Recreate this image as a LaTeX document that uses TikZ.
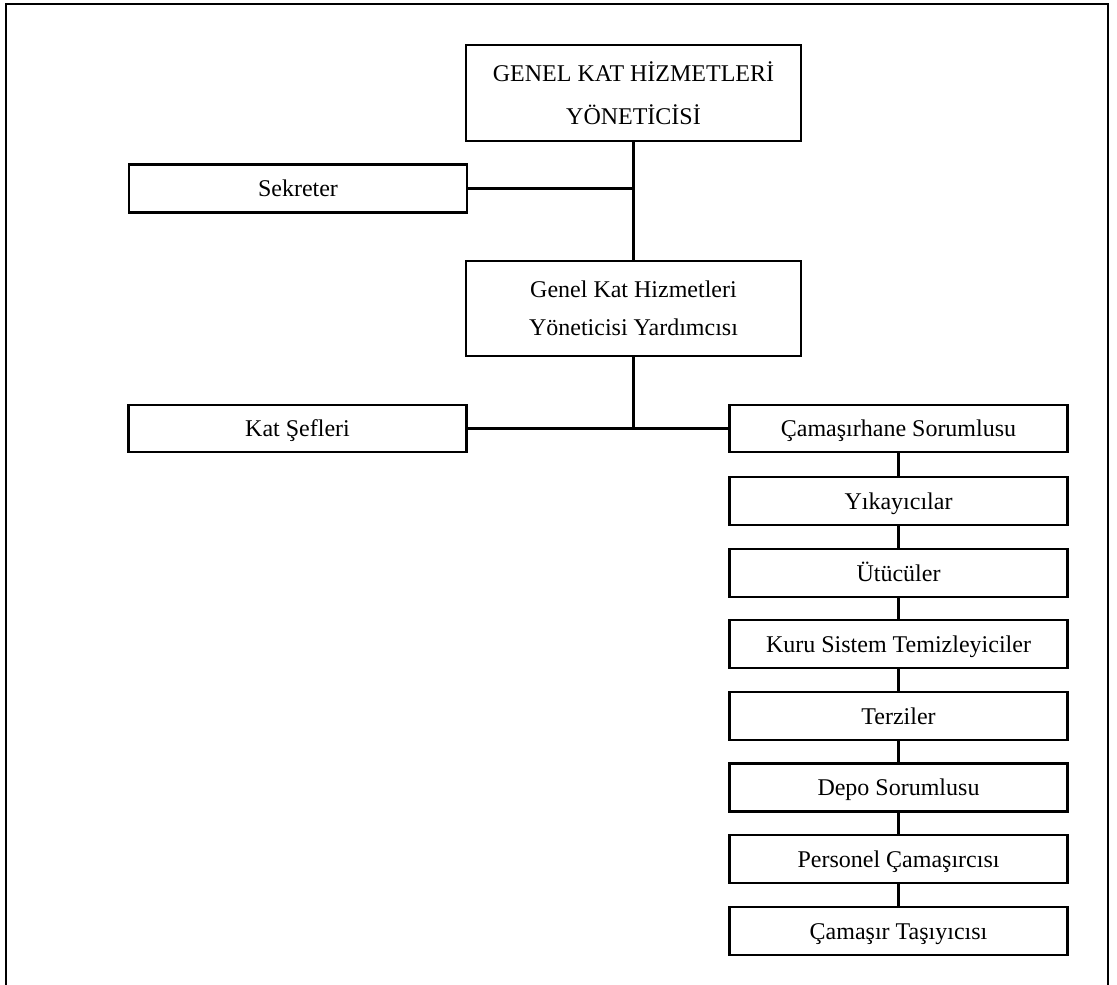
\documentclass[tikz,border=0pt]{standalone}
\usepackage{fontspec}
\setmainfont{Liberation Serif}
\begin{document}
\begin{tikzpicture}[x=1pt,y=-1pt,
  box/.style={draw, line width=2.2pt, minimum width=338pt, minimum height=48pt,
    inner sep=0pt, text height=16pt, text depth=0pt,
    font=\fontsize{24}{29}\selectfont},
  bigbox/.style={draw, line width=2.2pt, minimum width=335pt, inner sep=0pt, align=center},
  link/.style={line width=2.2pt},
  frame/.style={line width=2.6pt}]
\useasboundingbox (0,0) rectangle (1117,985);
\draw[frame] (6,985) -- (6,4) -- (1108,4) -- (1108,985);

\node[bigbox, minimum height=96pt, font=\fontsize{24}{43}\selectfont] (top) at (633.5,93)
  {GENEL KAT HİZMETLERİ\\YÖNETİCİSİ};
\node[box] (sek) at (298,188.5) {Sekreter};
\node[bigbox, minimum height=95pt, font=\fontsize{24}{38}\selectfont] (mid) at (633.5,308.5)
  {Genel Kat Hizmetleri\\Yöneticisi Yardımcısı};
\node[box, minimum height=47pt] (kat) at (297.5,428.5) {Kat Şefleri};
\node[box, minimum height=47pt] (cam) at (898.5,428.5) {Çamaşırhane Sorumlusu};
\node[box] (yik) at (898.5,501) {Yıkayıcılar};
\node[box] (utu) at (898.5,573) {Ütücüler};
\node[box] (kuru) at (898.5,644) {Kuru Sistem Temizleyiciler};
\node[box] (terz) at (898.5,716) {Terziler};
\node[box] (depo) at (898.5,787.5) {Depo Sorumlusu};
\node[box] (pers) at (898.5,859) {Personel Çamaşırcısı};
\node[box] (tasi) at (898.5,931) {Çamaşır Taşıyıcısı};

\draw[link] (top.south) -- (mid.north);
\draw[link] (sek.east) -- (sek.east -| top.south);
\draw[link] (mid.south) -- (mid.south |- kat.east);
\draw[link] (kat.east) -- (cam.west);
\draw[link] (cam.south) -- (yik.north);
\draw[link] (yik.south) -- (utu.north);
\draw[link] (utu.south) -- (kuru.north);
\draw[link] (kuru.south) -- (terz.north);
\draw[link] (terz.south) -- (depo.north);
\draw[link] (depo.south) -- (pers.north);
\draw[link] (pers.south) -- (tasi.north);
\end{tikzpicture}
\end{document}
